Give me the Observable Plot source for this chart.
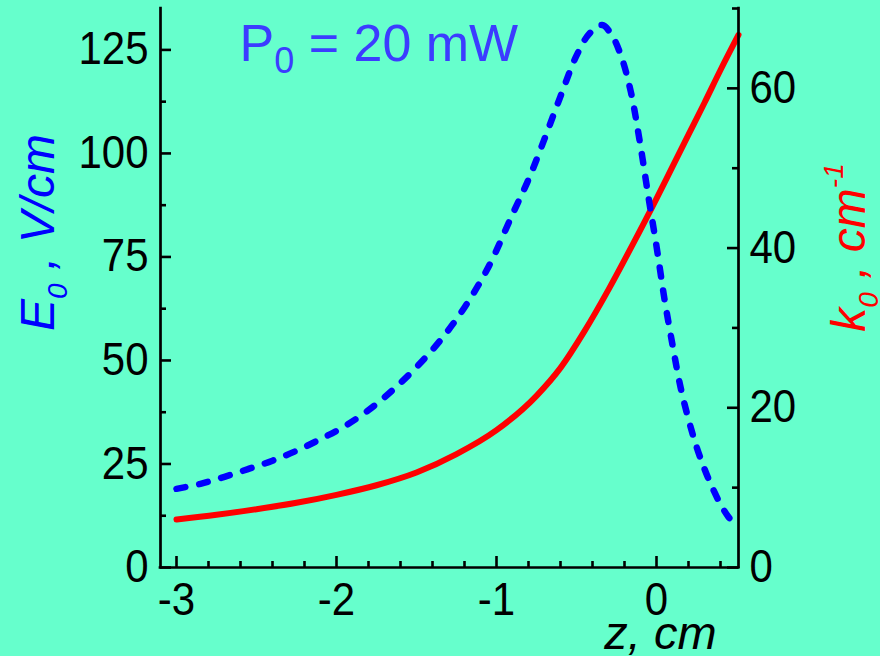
<!DOCTYPE html>
<html>
<head>
<meta charset="utf-8">
<script src="https://cdn.jsdelivr.net/npm/d3@7"></script>
<script src="https://cdn.jsdelivr.net/npm/@observablehq/plot@0.6"></script>
<style>
  html, body { margin: 0; padding: 0; background: #66FFCC; }
  #chart svg { display: block; }
</style>
</head>
<body>
<div id="chart"></div>
<script>
// ---- data ----
const zE = [-3.0,-2.85,-2.7,-2.55,-2.4,-2.25,-2.1,-1.95,-1.8,-1.65,-1.5,-1.35,-1.2,-1.05,-0.9,-0.8,-0.7,-0.6,-0.5,-0.42,-0.34,-0.28,-0.22,-0.16,-0.1,-0.05,0,0.05,0.1,0.15,0.2,0.25,0.3,0.35,0.4,0.45,0.5125];
const E0 = [19.0,20.2,21.9,23.8,25.8,28.2,31.0,34.1,38.0,42.8,48.4,54.9,62.8,72.6,85.3,93.7,103.5,113.8,123.6,128.9,131.0,128.6,123.4,114.8,101.8,89.4,77.6,64.8,53.8,43.6,35.8,29.2,23.8,19.2,15.3,12.2,9.4];
const zK = [-3.0,-2.75,-2.5,-2.25,-2.0,-1.75,-1.5,-1.25,-1.0,-0.75,-0.6,-0.45,-0.3,-0.15,0,0.1,0.2,0.3,0.4,0.5125];
const k0 = [6.0,6.6,7.3,8.1,9.1,10.3,11.9,14.2,17.2,21.5,25.0,29.6,34.8,40.4,46.2,50.2,54.2,58.2,62.3,66.7];

const xDomain = [-3.1, 0.5125];
const eDomain = [0, 135];
const kDomain = [0, 70];
const xTicks = [-3, -2, -1, 0];
const xMinor = [-2.8,-2.6,-2.4,-2.2,-1.8,-1.6,-1.4,-1.2,-0.8,-0.6,-0.4,-0.2,0.2,0.4];
const eTicks = [0, 25, 50, 75, 100, 125];
const eMinor = [12.5, 37.5, 62.5, 87.5, 112.5];
const kTicks = [0, 20, 40, 60];
const kMinor = [10, 30, 50, 70];

const annotationParts = ["P", "0", " = 20 mW"];
const leftTitleParts = ["E", "0", " , V/cm"];
const rightTitleParts = ["k", "0", " , cm", "-1"];
const xTitle = "z, cm";

// ---- build ----
const eRows = zE.map((z, i) => ({z, E: E0[i]}));
const kRows = zK.map((z, i) => ({z, k: k0[i]}));
const kToE = k => k * eDomain[1] / kDomain[1];
const eToK = e => Math.round(e * kDomain[1] / eDomain[1]);

const W = 880, H = 656;
const mL = 160, mR = 142, mT = 8, mB = 89;
const fw = W - mL - mR, fh = H - mT - mB;
const major = 11, minor = 6;
const axisW = 2.7;
const font = "'Liberation Sans', Arial, sans-serif";

const chart = Plot.plot({
  width: W, height: H,
  marginLeft: mL, marginRight: mR, marginTop: mT, marginBottom: mB,
  style: {background: "#66FFCC", color: "black", fontFamily: font, overflow: "visible"},
  x: {domain: xDomain},
  y: {domain: eDomain},
  marks: [
    // k0 (right axis), red solid
    Plot.line(kRows, {x: "z", y: d => kToE(d.k), stroke: "#FF0000", strokeWidth: 6, strokeLinecap: "round", strokeLinejoin: "round", curve: "monotone-x"}),
    // E0 (left axis), blue dashed
    Plot.line(eRows, {x: "z", y: "E", stroke: "#0000FF", strokeWidth: 6.5, strokeDasharray: "9,14", strokeLinecap: "round", curve: "catmull-rom"}),
    // axis lines
    Plot.ruleX([xDomain[0]], {stroke: "black", strokeWidth: axisW, strokeLinecap: "square"}),
    Plot.ruleX([xDomain[1]], {stroke: "black", strokeWidth: axisW, strokeLinecap: "square"}),
    Plot.ruleY([0], {stroke: "black", strokeWidth: axisW, strokeLinecap: "square"}),
    // inward ticks
    Plot.tickY(eTicks, {y: d => d, insetRight: fw - major, stroke: "black", strokeWidth: 2.6}),
    Plot.tickY(eMinor, {y: d => d, insetRight: fw - minor, stroke: "black", strokeWidth: 2.6}),
    Plot.tickY(kTicks, {y: d => kToE(d), insetLeft: fw - major, stroke: "black", strokeWidth: 2.6}),
    Plot.tickY(kMinor, {y: d => kToE(d), insetLeft: fw - minor, stroke: "black", strokeWidth: 2.6}),
    Plot.tickX(xTicks, {x: d => d, insetTop: fh - major, stroke: "black", strokeWidth: 2.6}),
    Plot.tickX(xMinor, {x: d => d, insetTop: fh - minor, stroke: "black", strokeWidth: 2.6}),
    // tick labels
    Plot.axisY(eTicks, {anchor: "left", tickSize: 0, tickPadding: 12, fontSize: 42, label: null, tickFormat: d => String(d)}),
    Plot.axisY(kTicks.map(kToE), {anchor: "right", tickSize: 0, tickPadding: 11, fontSize: 42, label: null, tickFormat: d => String(eToK(d))}),
    Plot.axisX(xTicks, {anchor: "bottom", tickSize: 0, tickPadding: 15, fontSize: 42, label: null, tickFormat: d => String(d)}),
    // titles
    Plot.text([xTitle], {frameAnchor: "bottom", dx: 660 - (mL + fw / 2), dy: 81, textAnchor: "middle", lineAnchor: "bottom", fontSize: 47, fontStyle: "italic", fill: "black"}),
    Plot.text([leftTitleParts.join("")], {frameAnchor: "left", dx: 38 - mL, dy: 232 - (mT + fh / 2), rotate: -90, textAnchor: "middle", lineAnchor: "middle", fontSize: 48, fontStyle: "italic", fill: "#0000FF"}),
    Plot.text([rightTitleParts.join("")], {frameAnchor: "right", dx: 849 - (mL + fw), dy: 247 - (mT + fh / 2), rotate: -90, textAnchor: "middle", lineAnchor: "middle", fontSize: 48, fontStyle: "italic", fill: "#FF0000"}),
    Plot.text([annotationParts.join("")], {frameAnchor: "top-left", dx: 239 - mL, dy: 60 - mT, textAnchor: "start", lineAnchor: "bottom", fontSize: 52, fill: "#3C3CFF"})
  ]
});

document.getElementById("chart").appendChild(chart);

// tick labels in the reference are slightly taller than wide
d3.select(chart).selectAll('g[aria-label$="tick label"] text').each(function() {
  const tr = this.getAttribute("transform") || "";
  this.setAttribute("transform", tr + " scale(1,1.08)");
});

// rich text: subscripts / superscripts
function rich(parts, roles, opts) {
  const full = parts.join("");
  d3.select(chart).selectAll("text").filter(function() { return this.textContent === full; }).each(function() {
    const t = d3.select(this);
    t.text(null);
    let cur = 0;
    parts.forEach((p, i) => {
      const role = roles[i];
      const shift = role === "sub" ? opts.sub : role === "sup" ? -opts.sup : 0;
      const ts = t.append("tspan").text(p).attr("dy", shift - cur);
      if (role !== "n") ts.attr("font-size", opts.small);
      cur = shift;
    });
  });
}
rich(annotationParts, ["n", "sub", "n"], {sub: 12, sup: 0, small: 36});
rich(leftTitleParts, ["n", "sub", "n"], {sub: 13, sup: 0, small: 28});
rich(rightTitleParts, ["n", "sub", "n", "sup"], {sub: 13, sup: 22, small: 28});
</script>
</body>
</html>
